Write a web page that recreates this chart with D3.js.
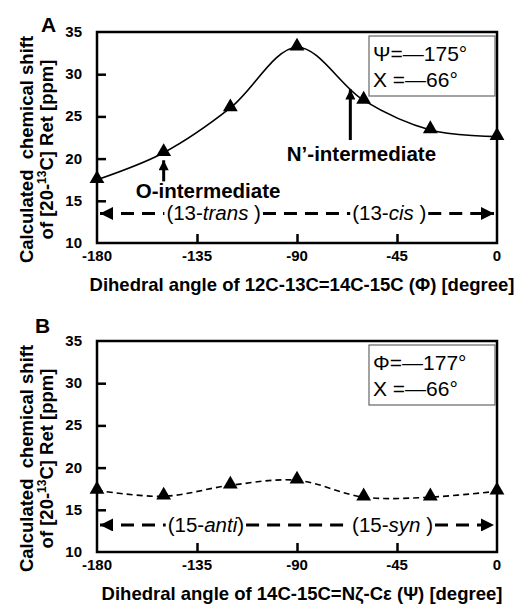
<!DOCTYPE html>
<html>
<head>
<meta charset="utf-8">
<script src="https://cdn.jsdelivr.net/npm/d3@7"></script>
<style>
  body { margin: 0; background: #fff; }
  svg text { font-family: "Liberation Sans", Arial, sans-serif; }
</style>
</head>
<body>
<svg id="chart" width="522" height="604"></svg>
<script>
// dihedral angles (deg) and calculated shifts (ppm)
const anglesA = [-180, -150, -120, -90, -60, -30, 0];
const shiftsA = [17.5, 20.7, 26.0, 33.2, 26.9, 23.4, 22.6];
const anglesB = [-180, -150, -120, -90, -60, -30, 0];
const shiftsB = [17.3, 16.6, 17.9, 18.5, 16.5, 16.5, 17.2];
const xTicks = [-180, -135, -90, -45, 0];
const yTicks = [10, 15, 20, 25, 30, 35];

const svg = d3.select("#chart");

// arrowheads
const defs = svg.append("defs");
defs.append("marker")
  .attr("id", "head")
  .attr("viewBox", "0 0 10 10")
  .attr("refX", 10).attr("refY", 5)
  .attr("markerUnits", "userSpaceOnUse")
  .attr("markerWidth", 15).attr("markerHeight", 13)
  .attr("orient", "auto-start-reverse")
  .append("path").attr("d", "M0,0L10,5L0,10Z").attr("fill", "#000");
defs.append("marker")
  .attr("id", "upHead")
  .attr("viewBox", "0 0 10 10")
  .attr("refX", 10).attr("refY", 5)
  .attr("markerUnits", "userSpaceOnUse")
  .attr("markerWidth", 11).attr("markerHeight", 10)
  .attr("orient", "auto")
  .append("path").attr("d", "M0,0L10,5L0,10Z").attr("fill", "#000");

function drawPanel(opt) {
  const left = 97, right = 497;
  const x = d3.scaleLinear().domain([-180, 0]).range([left, right]);
  const y = d3.scaleLinear().domain([10, 35]).range([opt.bottom, opt.top]);
  const g = svg.append("g");

  // ticks (inward)
  const yAxis = d3.axisRight(y).tickValues(yTicks.slice(1, -1)).tickSize(9).tickFormat("");
  g.append("g").attr("transform", `translate(${left},0)`).call(yAxis)
    .call(s => s.select(".domain").remove())
    .selectAll("line").attr("stroke-width", 2.5);
  const xAxis = d3.axisTop(x).tickValues(xTicks.slice(1, -1)).tickSize(9).tickFormat("");
  g.append("g").attr("transform", `translate(0,${opt.bottom})`).call(xAxis)
    .call(s => s.select(".domain").remove())
    .selectAll("line").attr("stroke-width", 2.5);

  // frame
  g.append("rect")
    .attr("x", left).attr("y", opt.top)
    .attr("width", right - left).attr("height", opt.bottom - opt.top)
    .attr("fill", "none").attr("stroke", "#000").attr("stroke-width", 2.5);

  // tick labels
  g.selectAll(".ylab").data(yTicks).enter().append("text")
    .attr("x", left - 15).attr("y", d => y(d) + 5)
    .attr("text-anchor", "end").attr("font-size", 15).attr("font-weight", "bold")
    .text(d => d);
  g.selectAll(".xlab").data(xTicks).enter().append("text")
    .attr("x", d => x(d)).attr("y", opt.bottom + 18)
    .attr("text-anchor", "middle").attr("font-size", 15).attr("font-weight", "bold")
    .text(d => d);

  // axis titles
  g.append("text")
    .attr("x", (left + right) / 2 + 5).attr("y", opt.bottom + 48)
    .attr("text-anchor", "middle").attr("font-size", 18.5).attr("font-weight", "bold")
    .text(opt.xTitle);
  const cy = (opt.top + opt.bottom) / 2 + 12;
  g.append("text")
    .attr("transform", `translate(33,${cy}) rotate(-90)`)
    .attr("text-anchor", "middle").attr("font-size", 18.5).attr("font-weight", "bold")
    .attr("xml:space", "preserve")
    .text("Calculated  chemical shift");
  const t2 = g.append("text")
    .attr("transform", `translate(53,${cy}) rotate(-90)`)
    .attr("text-anchor", "middle").attr("font-size", 18.5).attr("font-weight", "bold");
  t2.append("tspan").text("of [20-");
  t2.append("tspan").attr("font-size", 12).attr("dy", -7).text("13");
  t2.append("tspan").attr("dy", 7).text("C] Ret [ppm]");

  // panel letter
  g.append("text")
    .attr("x", opt.letterX).attr("y", opt.letterY)
    .attr("font-size", 21).attr("font-weight", "bold").text(opt.letter);

  // curve
  const pts = opt.angles.map((a, i) => [a, opt.shifts[i]]);
  g.append("path")
    .datum(pts)
    .attr("fill", "none").attr("stroke", "#000").attr("stroke-width", 1.6)
    .attr("stroke-dasharray", opt.dashed ? "6,4" : null)
    .attr("d", d3.line().x(d => x(d[0])).y(d => y(d[1])).curve(d3.curveCatmullRom.alpha(0.5)));
  g.selectAll(".pt").data(pts).enter().append("path")
    .attr("transform", d => `translate(${x(d[0])},${y(d[1]) - 1})`)
    .attr("d", d3.symbol(d3.symbolTriangle, 95));

  // conformer range arrows
  const ay = y(opt.arrowY);
  const lbl = g.selectAll(".rng").data(opt.ranges).enter().append("text")
    .attr("x", d => x(d.at)).attr("y", ay + 7)
    .attr("text-anchor", "middle").attr("font-size", 20.5)
    .attr("xml:space", "preserve");
  lbl.append("tspan").text(d => d.pre);
  lbl.append("tspan").attr("font-style", "italic").text(d => d.it);
  lbl.append("tspan").text(d => d.post);
  const boxes = [];
  lbl.each(function() { boxes.push(this.getBBox()); });
  const seg = [[left, boxes[0].x - 2], [boxes[0].x + boxes[0].width + 2, boxes[1].x - 2],
               [boxes[1].x + boxes[1].width + 2, right]];
  seg.forEach((s, i) => {
    g.append("line")
      .attr("x1", s[0] + (i === 0 ? 3 : 0)).attr("x2", s[1] - (i === 2 ? 3 : 0))
      .attr("y1", ay).attr("y2", ay)
      .attr("stroke", "#000").attr("stroke-width", 3)
      .attr("stroke-dasharray", "13,8")
      .attr("marker-start", i === 0 ? "url(#head)" : null)
      .attr("marker-end", i === 2 ? "url(#head)" : null);
  });

  // parameter box
  g.append("rect")
    .attr("x", 369).attr("y", opt.top + 4).attr("width", 126).attr("height", 60)
    .attr("fill", "#fff").attr("stroke", "#666").attr("stroke-width", 1.2);
  opt.params.forEach((p, i) => {
    g.append("text")
      .attr("x", 373).attr("y", opt.top + 29 + i * 26)
      .attr("font-size", 21).attr("xml:space", "preserve")
      .text(p);
  });
  return { x, y, g };
}

const A = drawPanel({
  top: 32, bottom: 243, letter: "A", letterX: 41, letterY: 32,
  angles: anglesA, shifts: shiftsA, dashed: false, arrowY: 13.5,
  xTitle: "Dihedral angle of 12C-13C=14C-15C (\u03A6) [degree]",
  ranges: [{ at: -127.5, pre: "(13-", it: "trans", post: " )" },
           { at: -48.5, pre: "(13-", it: "cis", post: " )" }],
  params: ["\u03A8=\u2014175\u00B0", "X =\u201466\u00B0"]
});

// intermediate annotations in panel A
const notes = [
  { at: -150, from: 17.3, to: 19.8, text: "O-intermediate", tx: -130, ty: 15.35 },
  { at: -66, from: 22.2, to: 28.2, text: "N\u2019-intermediate", tx: -61, ty: 19.7 }
];
notes.forEach(n => {
  A.g.append("line")
    .attr("x1", A.x(n.at)).attr("x2", A.x(n.at))
    .attr("y1", A.y(n.from)).attr("y2", A.y(n.to))
    .attr("stroke", "#000").attr("stroke-width", 3)
    .attr("marker-end", "url(#upHead)");
  A.g.append("text")
    .attr("x", A.x(n.tx)).attr("y", A.y(n.ty))
    .attr("text-anchor", "middle").attr("font-size", 20.5).attr("font-weight", "bold")
    .text(n.text);
});

drawPanel({
  top: 341, bottom: 552, letter: "B", letterX: 35, letterY: 333,
  angles: anglesB, shifts: shiftsB, dashed: true, arrowY: 13.2,
  xTitle: "Dihedral angle of 14C-15C=N\u03B6-C\u03B5 (\u03A8) [degree]",
  ranges: [{ at: -131, pre: "(15-", it: "anti", post: ")" },
           { at: -47, pre: "(15-", it: "syn", post: " )" }],
  params: ["\u03A6=\u2014177\u00B0", "X =\u201466\u00B0"]
});
</script>
</body>
</html>
